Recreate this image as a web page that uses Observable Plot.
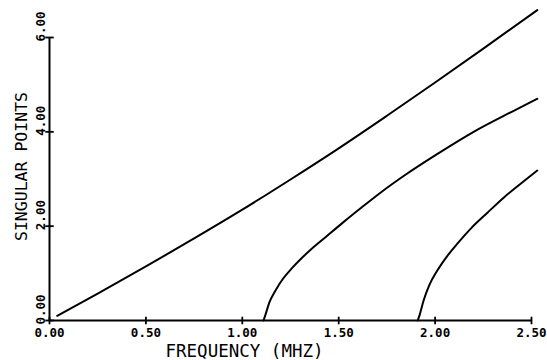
<!DOCTYPE html>
<html>
<head>
<meta charset="utf-8">
<script src="https://cdn.jsdelivr.net/npm/d3@7"></script>
<script src="https://cdn.jsdelivr.net/npm/@observablehq/plot@0.6"></script>
<style>
  html, body { margin: 0; padding: 0; background: #fff; }
  svg { display: block; }
</style>
</head>
<body>
<div id="chart"></div>
<script>
const xTicks = [0, 0.5, 1, 1.5, 2, 2.5];
const yTicks = [0, 2, 4, 6];
const xLabel = "FREQUENCY (MHZ)";
const yLabel = "SINGULAR POINTS";

// Curve 1
const freq1 = [0.04, 0.25, 0.5, 0.75, 1.0, 1.25, 1.5, 1.75, 2.0, 2.25, 2.53];
const pts1  = [0.1, 0.57, 1.145, 1.74, 2.35, 2.99, 3.65, 4.34, 5.045, 5.765, 6.58];
// Curve 2
const freq2 = [1.11, 1.12, 1.14, 1.17, 1.21, 1.26, 1.31, 1.36, 1.43, 1.52, 1.62, 1.72, 1.85, 2.0, 2.2, 2.4, 2.53];
const pts2  = [0, 0.12, 0.38, 0.62, 0.88, 1.12, 1.33, 1.52, 1.76, 2.07, 2.40, 2.72, 3.10, 3.50, 4.00, 4.43, 4.70];
// Curve 3
const freq3 = [1.91, 1.92, 1.94, 1.97, 2.01, 2.06, 2.12, 2.19, 2.27, 2.36, 2.45, 2.53];
const pts3  = [0, 0.12, 0.42, 0.75, 1.05, 1.35, 1.65, 1.97, 2.28, 2.62, 2.92, 3.18];

const series = [
  {f: freq1, v: pts1, id: 1},
  {f: freq2, v: pts2, id: 2},
  {f: freq3, v: pts3, id: 3}
];
const data = series.flatMap(s => s.f.map((f, i) => ({freq: f, val: s.v[i], id: s.id})));

const fmt = d3.format(".2f");
const mono = "'DejaVu Sans Mono', 'Liberation Mono', monospace";

const chart = Plot.plot({
  width: 547,
  height: 360,
  marginLeft: 49,
  marginRight: 16,
  marginTop: 37,
  marginBottom: 40,
  x: {domain: [0, 2.5], axis: null},
  y: {domain: [0, 6], axis: null},
  style: {background: "#fff", color: "#000"},
  marks: [
    Plot.ruleY([0], {stroke: "#000", strokeWidth: 2}),
    Plot.ruleX([0], {stroke: "#000", strokeWidth: 2}),
    Plot.link(xTicks, {x1: d => d, x2: d => d, y1: -0.08, y2: 0.08, stroke: "#000", strokeWidth: 1.8}),
    Plot.link(yTicks, {y1: d => d, y2: d => d, x1: -0.022, x2: 0.022, stroke: "#000", strokeWidth: 1.8}),
    Plot.text(xTicks, {x: d => d, y: 0, text: d => fmt(d), dy: 12.5, lineAnchor: "middle", fontFamily: mono, fontSize: 12.5, fontWeight: "bold", fill: "#000"}),
    Plot.text(yTicks, {x: 0, y: d => d, text: d => fmt(d), rotate: -90, textAnchor: "start", lineAnchor: "middle", dx: -9, dy: 4, fontFamily: mono, fontSize: 12.5, fontWeight: "bold", fill: "#000"}),
    Plot.text([xLabel], {frameAnchor: "bottom", text: d => d, lineAnchor: "middle", dx: -46, dy: 31, fontFamily: mono, fontSize: 17.5, fill: "#000"}),
    Plot.text([yLabel], {frameAnchor: "left", text: d => d, rotate: -90, lineAnchor: "middle", dx: -28, dy: 62, fontFamily: mono, fontSize: 16.5, fill: "#000"}),
    Plot.line(data, {x: "freq", y: "val", z: "id", stroke: "#000", strokeWidth: 2, curve: "monotone-x"})
  ]
});
document.getElementById("chart").appendChild(chart);
</script>
</body>
</html>
